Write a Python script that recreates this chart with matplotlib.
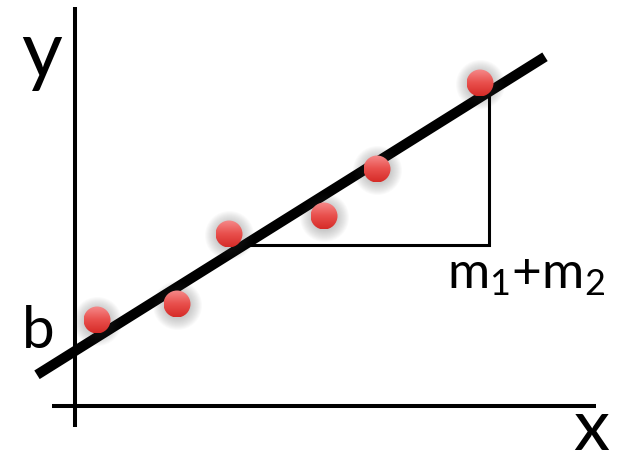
import numpy as np
import matplotlib.pyplot as plt
from matplotlib.patches import Circle
from matplotlib.colors import LinearSegmentedColormap

# data points (x, y) in chart units, origin at axes crossing
pts_x = [22, 102, 154, 249, 302, 405]
pts_y = [85, 101, 171, 189, 236, 322]

# fitted line y = b + m*x
b = 54
m = 0.626
line_x = [-38, 470]

# triangle corner for the slope label
tri_x = 414
tri_y = 160

dot_r = 13.5

fig = plt.figure(figsize=(6.31, 4.59), dpi=100)
ax = fig.add_axes([0, 0, 1, 1])
ax.set_axis_off()

# axes lines
ax.plot([0, 0], [-22, 398], color="black", lw=2.9, solid_capstyle="butt")
ax.plot([-23, 521], [-1, -1], color="black", lw=2.9, solid_capstyle="butt")

# fitted line
lx = np.array(line_x)
ax.plot(lx, b + m * lx, color="black", lw=7.3, solid_capstyle="butt", zorder=3)

# slope triangle
x0 = (tri_y - b) / m
ax.plot([x0, tri_x, tri_x], [tri_y, tri_y, b + m * tri_x], color="black",
        lw=2.2, solid_capstyle="butt", solid_joinstyle="miter", zorder=2)

# dots: soft grey shadow + red gradient
cmap = LinearSegmentedColormap.from_list("dot", ["#d62c28", "#e9504d", "#f58a8a"])
grad = np.linspace(0, 1, 64).reshape(-1, 1)
for x, y in zip(pts_x, pts_y):
    for k in range(12):
        ax.add_patch(Circle((x + 0.5, y - 1.5), dot_r + 11 - k, color="#404040",
                            alpha=0.022, lw=0, zorder=4))
    c = Circle((x, y), dot_r, transform=ax.transData, facecolor="none",
               edgecolor="none", zorder=6)
    ax.add_patch(c)
    im = ax.imshow(grad, cmap=cmap, origin="lower", aspect="auto",
                   extent=[x - dot_r, x + dot_r, y - dot_r, y + dot_r], zorder=5)
    im.set_clip_path(c)

# labels
font = "Lato"
ax.text(-33, 350, "y", fontsize=57, family=font, ha="center", va="center")
ax.text(516, -25, "x", fontsize=52, family=font, ha="center", va="center")
ax.text(-37, 74, "b", fontsize=42, family=font, ha="center", va="center")
plt.rcParams["mathtext.fontset"] = "custom"
plt.rcParams["mathtext.rm"] = font
plt.rcParams["mathtext.it"] = font
ax.text(372, 117, r"$\mathregular{m_1{+}m_2}$", fontsize=37, family=font,
        ha="left", va="baseline")

ax.set_xlim(-75, 556)
ax.set_ylim(-54, 405)

plt.savefig("out.png", dpi=100)
